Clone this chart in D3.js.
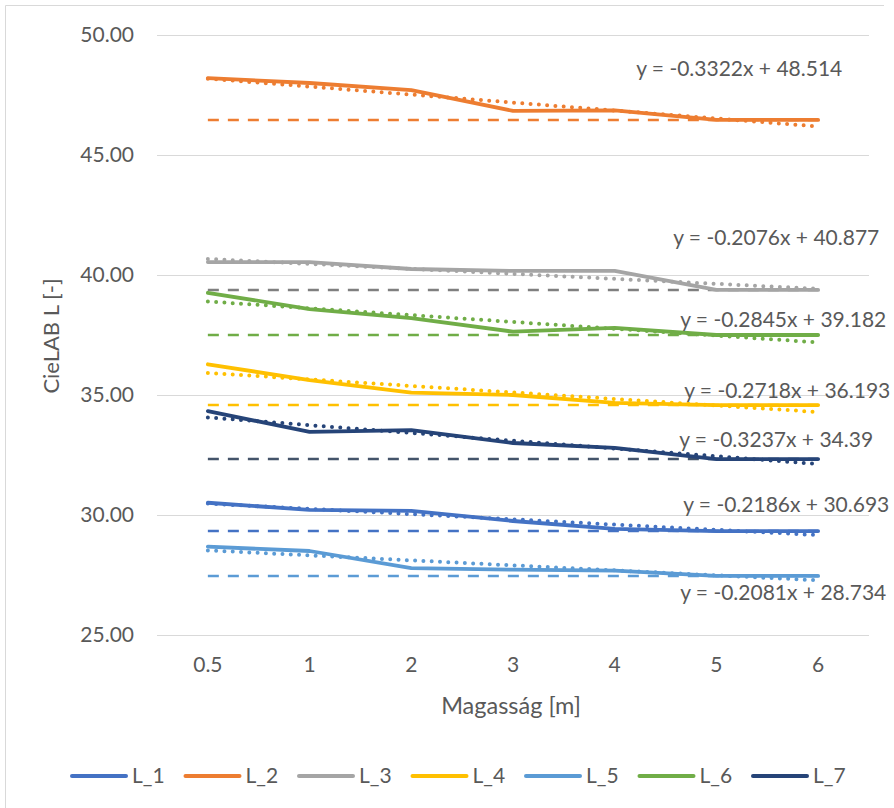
<!DOCTYPE html>
<meta charset="utf-8">
<style>
  body { margin: 0; background: #fff; }
  text { font-family: Lato, "Open Sans", sans-serif; fill: #595959; }
</style>

<!-- Load d3.js -->
<script src="https://d3js.org/d3.v7.min.js"></script>

<div id="my_dataviz"></div>

<script>

// categories on the x axis (height in metres)
var heights = ["0.5", "1", "2", "3", "4", "5", "6"];
var yTicks = [25, 30, 35, 40, 45, 50];

// series names
var seriesNames = ["L_1", "L_2", "L_3", "L_4", "L_5", "L_6", "L_7"];

// measured CieLAB L values per series
var L_1 = [30.51, 30.21, 30.17, 29.75, 29.42, 29.33, 29.33];
var L_2 = [48.20, 48.00, 47.70, 46.84, 46.86, 46.46, 46.46];
var L_3 = [40.54, 40.54, 40.25, 40.17, 40.17, 39.38, 39.38];
var L_4 = [36.28, 35.62, 35.10, 35.00, 34.67, 34.58, 34.58];
var L_5 = [28.68, 28.50, 27.79, 27.72, 27.68, 27.46, 27.46];
var L_6 = [39.26, 38.58, 38.20, 37.64, 37.80, 37.50, 37.50];
var L_7 = [34.33, 33.46, 33.54, 33.00, 32.80, 32.33, 32.33];

// linear trendlines as written on the chart (x = 1..7)
var slopes = [-0.2186, -0.3322, -0.2076, -0.2718, -0.2081, -0.2845, -0.3237];
var intercepts = [30.693, 48.514, 40.877, 36.193, 28.734, 39.182, 34.39];
var equations = [
  "y = -0.2186x + 30.693",
  "y = -0.3322x + 48.514",
  "y = -0.2076x + 40.877",
  "y = -0.2718x + 36.193",
  "y = -0.2081x + 28.734",
  "y = -0.2845x + 39.182",
  "y = -0.3237x + 34.39"
];

// styling
var colors = ["#4472C4", "#ED7D31", "#A5A5A5", "#FFC000", "#5B9BD5", "#70AD47", "#264478"];
var dashColors = ["#4472C4", "#ED7D31", "#7F7F7F", "#FFC000", "#5B9BD5", "#70AD47", "#44546A"];
// label offset from the trendline end, in pixels
var labelOffsets = [[-135, -23], [-182, -50], [-145, -44], [-134, -14], [-138, 20], [-138, -15], [-139, -17]];

var allValues = [L_1, L_2, L_3, L_4, L_5, L_6, L_7];
var series = seriesNames.map(function(name, i) {
  return {name: name, values: allValues[i], slope: slopes[i], intercept: intercepts[i],
          eq: equations[i], color: colors[i], dash: dashColors[i], off: labelOffsets[i]};
});

var width = 894, height = 808;
var plot = {left: 157, right: 869, top: 35, bottom: 635};

var svg = d3.select("#my_dataviz")
  .append("svg")
    .attr("width", width)
    .attr("height", height);

// chart border (only top and left visible)
svg.append("path")
  .attr("d", "M5.5,808 V5.5 H884")
  .attr("fill", "none")
  .attr("stroke", "#d9d9d9")
  .attr("stroke-width", 1);

var x = d3.scaleBand()
  .domain(heights)
  .range([plot.left, plot.right])
  .padding(0);

var y = d3.scaleLinear()
  .domain([25, 50])
  .range([plot.bottom, plot.top]);

function xc(d) { return x(d) + x.bandwidth() / 2; }

// gridlines + y labels
var yAxis = svg.append("g")
  .attr("transform", "translate(" + plot.left + ",0)")
  .call(d3.axisLeft(y).tickValues(yTicks)
    .tickSize(-(plot.right - plot.left)).tickPadding(23)
    .tickFormat(d3.format(".2f")));
yAxis.select(".domain").remove();
yAxis.selectAll("line").attr("stroke", "#d9d9d9");
yAxis.selectAll("text")
  .style("font-family", "Lato, sans-serif")
  .style("font-size", "21px")
  .attr("fill", "#595959");

// x labels
var xAxis = svg.append("g")
  .attr("transform", "translate(0," + plot.bottom + ")")
  .call(d3.axisBottom(x).tickSize(0).tickPadding(22));
xAxis.select(".domain").remove();
xAxis.selectAll("text")
  .style("font-family", "Lato, sans-serif")
  .style("font-size", "21px")
  .attr("fill", "#595959");

// axis titles
svg.append("text")
  .attr("transform", "translate(59,336) rotate(-90)")
  .style("text-anchor", "middle")
  .style("font-size", "22px")
  .text("CieLAB L [-]");

svg.append("text")
  .attr("x", 511)
  .attr("y", 714)
  .style("text-anchor", "middle")
  .style("font-size", "23.5px")
  .text("Magasság [m]");

var line = d3.line()
  .x(function(d, i) { return xc(heights[i]); })
  .y(function(d) { return y(d); });

// dashed lines at the minimum of each series
svg.selectAll(".minline")
  .data(series)
  .enter()
  .append("line")
    .attr("class", "minline")
    .attr("x1", xc(heights[0]))
    .attr("x2", xc(heights[heights.length - 1]))
    .attr("y1", function(d) { return y(d3.min(d.values)); })
    .attr("y2", function(d) { return y(d3.min(d.values)); })
    .attr("stroke", function(d) { return d.dash; })
    .attr("stroke-width", 2.5)
    .attr("stroke-dasharray", "11,9");

// the series lines
svg.selectAll(".serie")
  .data(series)
  .enter()
  .append("path")
    .attr("class", "serie")
    .attr("d", function(d) { return line(d.values); })
    .attr("fill", "none")
    .attr("stroke", function(d) { return d.color; })
    .attr("stroke-width", 3.8)
    .attr("stroke-linejoin", "round")
    .attr("stroke-linecap", "round");

// dotted linear trendlines
function trend(d, k) { return d.slope * k + d.intercept; }
svg.selectAll(".trend")
  .data(series)
  .enter()
  .append("line")
    .attr("class", "trend")
    .attr("x1", xc(heights[0]))
    .attr("x2", xc(heights[heights.length - 1]))
    .attr("y1", function(d) { return y(trend(d, 1)); })
    .attr("y2", function(d) { return y(trend(d, heights.length)); })
    .attr("stroke", function(d) { return d.color; })
    .attr("stroke-width", 4)
    .attr("stroke-linecap", "round")
    .attr("stroke-dasharray", "0,8.3");

// trendline equations
svg.selectAll(".eq")
  .data(series)
  .enter()
  .append("text")
    .attr("class", "eq")
    .attr("x", function(d) { return xc(heights[heights.length - 1]) + d.off[0]; })
    .attr("y", function(d) { return y(trend(d, heights.length)) + d.off[1]; })
    .style("font-size", "21px")
    .text(function(d) { return d.eq; });

// legend
var legend = svg.selectAll(".legend")
  .data(series)
  .enter()
  .append("g")
    .attr("class", "legend")
    .attr("transform", function(d, i) { return "translate(" + (72 + i * 113.5) + ",776)"; });

legend.append("line")
  .attr("x1", 0).attr("x2", 54)
  .attr("stroke", function(d) { return d.color; })
  .attr("stroke-width", 4)
  .attr("stroke-linecap", "round");

legend.append("text")
  .attr("x", 60)
  .attr("y", 7)
  .style("font-size", "21px")
  .text(function(d) { return d.name; });

</script>
